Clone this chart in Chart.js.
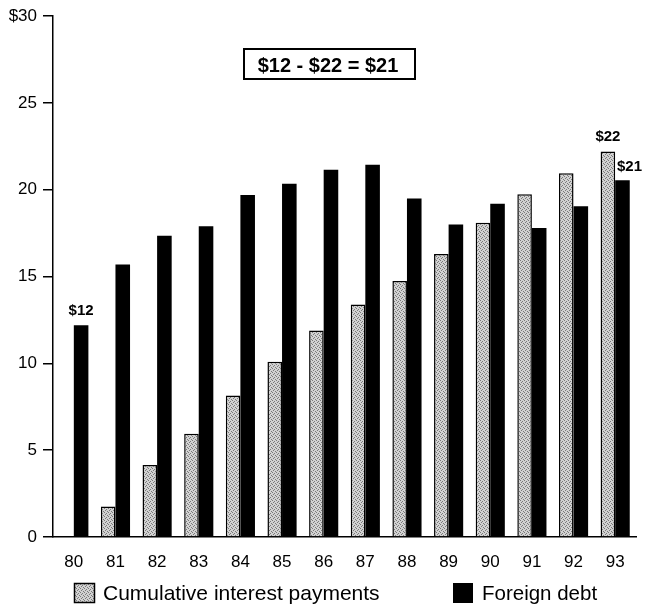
<!DOCTYPE html>
<html>
<head>
<meta charset="utf-8">
<script src="https://cdn.jsdelivr.net/npm/chart.js@4"></script>
<style>
  body { margin: 0; background: #fff; }
  canvas { display: block; }
</style>
</head>
<body>
<canvas id="debtChart" width="645" height="607"></canvas>
<script>
// Chart data
const years = ['80', '81', '82', '83', '84', '85', '86', '87', '88', '89', '90', '91', '92', '93'];
const interestPayments = [null, 1.75, 4.15, 5.95, 8.15, 10.1, 11.9, 13.4, 14.75, 16.3, 18.1, 19.75, 20.95, 22.2];
const foreignDebt = [12.2, 15.7, 17.35, 17.9, 19.7, 20.35, 21.15, 21.45, 19.5, 18.0, 19.2, 17.8, 19.05, 20.55];
const seriesNames = ['Cumulative interest payments', 'Foreign debt'];
const yTicks = [0, 5, 10, 15, 20, 25, 30];
const boxText = '$12 - $22 = $21';

const FONT = '"Liberation Sans", Arial, Helvetica, sans-serif';

// stippled light grey fill like the printed original
function makeStipple() {
    const c = document.createElement('canvas');
    c.width = 4;
    c.height = 4;
    const g = c.getContext('2d');
    g.fillStyle = '#d2d2d2';
    g.fillRect(0, 0, 4, 4);
    g.fillStyle = '#7a7a7a';
    [[0, 0], [2, 1], [1, 2], [3, 3]].forEach(p => g.fillRect(p[0], p[1], 1, 1));
    return g.createPattern(c, 'repeat');
}
const stipple = makeStipple();

// value labels, the boxed note and the legend
const extras = {
    id: 'extras',
    afterDatasetsDraw(chart) {
        const ctx = chart.ctx;
        const grey = chart.getDatasetMeta(0).data;
        const black = chart.getDatasetMeta(1).data;
        const last = years.length - 1;

        ctx.save();
        ctx.fillStyle = '#000';
        ctx.textAlign = 'center';
        ctx.textBaseline = 'middle';
        ctx.font = 'bold 15px ' + FONT;
        ctx.fillText('$' + Math.round(foreignDebt[0]), black[0].x, black[0].y - 14);
        ctx.fillText('$' + Math.round(interestPayments[last]), grey[last].x, grey[last].y - 15);
        ctx.fillText('$' + Math.round(foreignDebt[last]), black[last].x + 7, black[last].y - 13);

        // boxed note
        ctx.lineWidth = 2;
        ctx.strokeStyle = '#000';
        ctx.strokeRect(244, 49, 171, 30);
        ctx.font = 'bold 20px ' + FONT;
        ctx.fillText(boxText, 328, 66);

        // legend
        ctx.lineWidth = 1.5;
        ctx.fillStyle = stipple;
        ctx.fillRect(74, 583, 21, 20);
        ctx.strokeRect(74.5, 583.5, 20, 19);
        ctx.fillStyle = '#000';
        ctx.fillRect(453, 583, 20, 20);
        ctx.textAlign = 'left';
        ctx.font = '21px ' + FONT;
        ctx.fillText(seriesNames[0], 103, 594);
        ctx.font = '20.5px ' + FONT;
        ctx.fillText(seriesNames[1], 482, 594);
        ctx.restore();
    }
};

new Chart(document.getElementById('debtChart'), {
    type: 'bar',
    data: {
        labels: years,
        datasets: [{
            label: seriesNames[0],
            data: interestPayments,
            backgroundColor: stipple,
            borderColor: '#000',
            borderWidth: 1.5,
            categoryPercentage: 0.7,
            barPercentage: 1.0
        }, {
            label: seriesNames[1],
            data: foreignDebt,
            backgroundColor: '#000',
            borderColor: '#000',
            borderWidth: 0,
            categoryPercentage: 0.7,
            barPercentage: 1.0
        }]
    },
    options: {
        responsive: false,
        animation: false,
        layout: {
            padding: { top: 15, right: 9, left: 0, bottom: 0 }
        },
        plugins: {
            legend: { display: false },
            tooltip: { enabled: false }
        },
        scales: {
            x: {
                afterFit: (scale) => { scale.height = 70; },
                grid: {
                    display: true,
                    drawOnChartArea: false,
                    drawTicks: false
                },
                border: { display: true, color: '#000', width: 1.5 },
                ticks: {
                    color: '#000',
                    padding: 15,
                    font: { family: FONT, size: 17 }
                }
            },
            y: {
                min: 0,
                max: 30,
                afterFit: (scale) => { scale.width = 53; },
                afterBuildTicks: (scale) => {
                    scale.ticks = yTicks.map(v => ({ value: v }));
                },
                grid: {
                    drawOnChartArea: false,
                    color: '#000',
                    lineWidth: 1.5,
                    tickLength: 10
                },
                border: { display: true, color: '#000', width: 1.5 },
                ticks: {
                    color: '#000',
                    padding: 6,
                    font: { family: FONT, size: 17 },
                    callback: (v) => v === 30 ? '$30' : v
                }
            }
        }
    },
    plugins: [extras]
});
</script>
</body>
</html>
